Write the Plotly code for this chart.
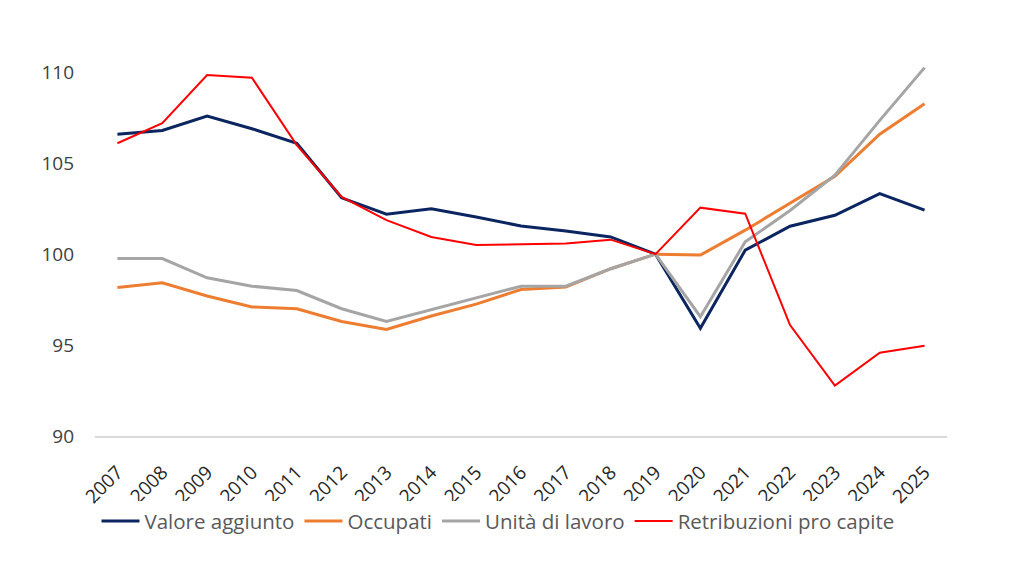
import plotly.graph_objects as go

years = [str(y) for y in range(2007, 2026)]
valore_aggiunto = [106.6, 106.8, 107.6, 106.9, 106.1, 103.1, 102.2, 102.5, 102.05, 101.55, 101.28, 100.95, 100.0,
                   95.92, 100.22, 101.54, 102.14, 103.33, 102.42]
occupati = [98.17, 98.43, 97.7, 97.1, 97.0, 96.3, 95.86, 96.6, 97.25, 98.06, 98.2, 99.2, 100.0,
            99.95, 101.32, 102.78, 104.28, 106.6, 108.28]
unita_lavoro = [99.76, 99.76, 98.7, 98.24, 98.0, 97.0, 96.3, 96.96, 97.6, 98.24, 98.24, 99.2, 100.0,
                96.56, 100.68, 102.4, 104.34, 107.36, 110.26]
retribuzioni = [106.1, 107.2, 109.85, 109.7, 106.0, 103.15, 101.87, 100.95, 100.5, 100.55, 100.59, 100.8, 100.0,
                102.56, 102.23, 96.1, 92.77, 94.58, 94.96]
y_ticks = [90, 95, 100, 105, 110]

series = [
    ("Valore aggiunto", valore_aggiunto, "#0b2560", 3),
    ("Occupati", occupati, "#ed7d31", 3),
    ("Unità di lavoro", unita_lavoro, "#a5a5a5", 3),
    ("Retribuzioni pro capite", retribuzioni, "#ff0000", 2),
]

fig = go.Figure()
for name, vals, color, w in series:
    fig.add_trace(go.Scatter(x=years, y=vals, mode="lines", name=name,
                             line=dict(color=color, width=w)))

font_family = "Open Sans, Liberation Sans, Arial"
fig.update_layout(
    width=1012, height=574,
    margin=dict(l=95, r=65, t=36, b=138),
    paper_bgcolor="white", plot_bgcolor="white",
    font=dict(family=font_family, size=19, color="#404040"),
    showlegend=True,
    legend=dict(orientation="h", x=0.473, xanchor="center", y=-0.163, yanchor="top",
                font=dict(size=20.5, color="#595959"), itemwidth=38, tracegroupgap=0),
)
fig.update_xaxes(type="category", range=[-0.5, 18.5], tickangle=-45, showgrid=False, showline=True,
                 linecolor="#d9d9d9", linewidth=1.5, ticks="", ticklabelstandoff=16,
                 tickfont=dict(size=19, color="#262626"))
fig.update_yaxes(range=[90, 112], tickvals=y_ticks, showgrid=False, zeroline=False,
                 showline=False, ticks="", ticklabelstandoff=20,
                 tickfont=dict(size=19, color="#404040"))

fig.write_html("out.html")
